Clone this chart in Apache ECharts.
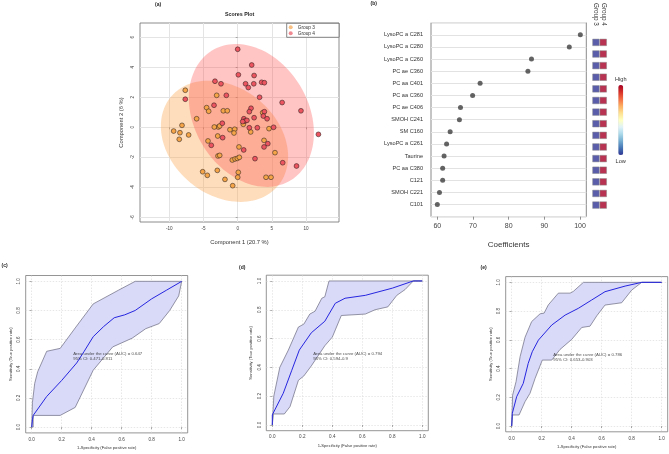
<!DOCTYPE html>
<html><head><meta charset="utf-8">
<script src="https://cdn.jsdelivr.net/npm/echarts@6/dist/echarts.min.js"></script>
<style>html,body{margin:0;padding:0;background:#fff}#c{width:669px;height:454px}</style>
</head><body><div id="c"></div>
<script>
// ---------- (a) Scores plot ----------
const group3X = [-3.07,-2.1,-1.52,3.65,0.82,1.9,4.58,-1.13,-0.44,-0.54,-2.84,-2.63,-2.92,3.85,5.45,0.19,-0.79,-0.39,-0.05,0.24,-2.88,-2.63,-2.98,0.09,0,-1.86,-0.73,4.14,4.87,-7.66,-6.0,-4.54,-4.24,-8.14,-9.36,-8.44,-7.17,-8.54,-3.42,-4.34,-5.12,-4.44];
const group3Y = [2.13,1.1,1.1,0.97,0.2,-0.31,-0.09,-0.16,-0.13,-0.38,0.02,0.09,-0.58,-0.87,-1.69,-1.31,-2.18,-2.11,-2.07,-2.0,-1.91,-1.87,-2.87,-3.0,-3.33,-3.47,-3.89,-3.33,-3.33,2.47,0.57,1.31,1.07,0.13,-0.25,-0.36,-0.51,-0.8,0.02,-0.91,-2.96,-3.2];
const group4X = [0,2.05,0.1,2.4,1.15,2.35,1.55,3.5,3.9,3.2,6.5,9.25,11.8,1.95,1.7,3.9,3.75,4.3,2.4,0.9,1.07,1.35,0.73,1.7,2.87,5.25,-1.66,-2.44,-3.32,-2.2,-2.25,4.4,3.85,0.88,2.53,6.58,8.6,-3.46,-7.66,-3.86];
const group4Y = [5.2,4.15,3.5,3.45,2.9,2.9,2.65,3.0,2.97,2.0,1.65,1.1,-0.47,1.27,1.04,1.04,0.75,0.57,0.64,0.57,0.42,0.46,0.38,-0.03,-0.03,0,2.13,2.9,3.07,-0.69,0.27,-1.09,-1.31,-1.51,-2.09,-2.36,-2.58,1.47,1.87,-1.2];
const scoreXTicks = [-10,-5,0,5,10];
const scoreYTicks = [-6,-4,-2,0,2,4,6];
// confidence ellipses: centre, half-extents, correlation
const ell3Center = [-1.93,-0.93], ell3Radii = [9.3,4.04], ell3Corr = -0.25;
const ell4Center = [2.0,0.79], ell4Radii = [9.14,4.76], ell4Corr = -0.246;

// ---------- (b) Coefficients ----------
const featureNames = ['LysoPC a C281','LysoPC a C280','LysoPC a C260','PC ae C360','PC aa C401','PC aa C360','PC ae C406','SMOH C241','SM C160','LysoPC a C261','Taurine','PC aa C380','C121','SMOH C221','C101'];
const coefficients = [100.1,97.0,86.4,85.4,72.0,69.9,66.5,66.2,63.6,62.6,61.9,61.5,61.5,60.6,60.0];
const coefTicks = [60,70,80,90,100];
const heatGroups = ['Group 3','Group 4'];
const group3Level = [0,0,0,0,0,0,0,0,0,0,0,0,0,0,0];
const group4Level = [1,1,1,1,1,1,1,1,1,1,1,1,1,1,1];

// ---------- (c)(d)(e) ROC ----------
const rocTicks = [0,0.2,0.4,0.6,0.8,1.0];
const rocC = [[0,0],[0.005,0.05],[0.01,0.08],[0.1,0.21],[0.2,0.32],[0.3,0.44],[0.35,0.52],[0.41,0.62],[0.48,0.69],[0.55,0.75],[0.62,0.77],[0.69,0.80],[0.8,0.88],[0.9,0.94],[1,1]];
const rocCUpper = [[0,0],[0.005,0.17],[0.02,0.3],[0.04,0.38],[0.1,0.52],[0.19,0.54],[0.29,0.68],[0.41,0.845],[0.58,0.94],[0.69,1.0],[1,1]];
const rocCLower = [[0,0],[0.01,0],[0.01,0.08],[0.19,0.08],[0.29,0.135],[0.41,0.39],[0.54,0.55],[0.67,0.61],[0.76,0.675],[0.85,0.71],[0.92,0.80],[0.98,0.90],[1,1]];
const rocD = [[0,0],[0,0.07],[0.073,0.22],[0.13,0.38],[0.18,0.52],[0.26,0.64],[0.35,0.72],[0.42,0.845],[0.485,0.88],[0.62,0.90],[0.80,0.95],[0.94,1.0],[1,1]];
const rocDUpper = [[0,0],[0.01,0.2],[0.05,0.4],[0.107,0.52],[0.174,0.68],[0.21,0.70],[0.25,0.77],[0.285,0.79],[0.33,0.88],[0.35,0.89],[0.378,1.0],[1,1]];
const rocDLower = [[0,0],[0.007,0.076],[0.08,0.076],[0.118,0.127],[0.174,0.31],[0.21,0.34],[0.26,0.41],[0.35,0.55],[0.40,0.61],[0.42,0.66],[0.46,0.76],[0.62,0.77],[0.685,0.80],[0.77,0.82],[0.83,0.90],[0.885,0.94],[0.94,1.0],[1,1]];
const rocE = [[0,0],[0.004,0.088],[0.033,0.204],[0.077,0.297],[0.11,0.436],[0.137,0.517],[0.178,0.598],[0.267,0.703],[0.356,0.772],[0.444,0.819],[0.533,0.877],[0.622,0.935],[0.756,0.974],[0.867,1.0],[1,1]];
const rocEUpper = [[0,0],[0.006,0.215],[0.029,0.309],[0.056,0.483],[0.089,0.618],[0.133,0.727],[0.189,0.781],[0.216,0.786],[0.244,0.843],[0.311,0.925],[0.389,0.925],[0.411,0.937],[0.478,1.0],[1,1]];
const rocELower = [[0,0],[0.006,0.077],[0.049,0.077],[0.089,0.17],[0.122,0.228],[0.156,0.332],[0.204,0.459],[0.267,0.459],[0.322,0.533],[0.4,0.603],[0.467,0.686],[0.522,0.695],[0.567,0.767],[0.622,0.842],[0.733,0.858],[0.8,0.946],[0.867,1.0],[1,1]];
const aucTexts = ['Area under the curve (AUC) = 0.647\n95% CI: 0.471-0.811','Area under the curve (AUC) = 0.794\n95% CI: 0.594-0.9','Area under the curve (AUC) = 0.786\n95% CI: 0.653-0.903'];
const aucPos = [[0.277,0.52],[0.273,0.512],[0.277,0.516]];

const FONT = 'Liberation Sans';
const chart = echarts.init(document.getElementById('c'), null, {renderer:'canvas'});

function ellipseRenderer(c, r, corr, fill){
  return function(params, api){
    const d = Math.acos(corr), pts = [];
    for (let k = 0; k <= 120; k++) {
      const t = k / 120 * 2 * Math.PI;
      pts.push(api.coord([c[0] + r[0]*Math.cos(t), c[1] + r[1]*Math.cos(t - d)]));
    }
    return {type:'polygon', shape:{points:pts}, style:{fill:fill, stroke:null}};
  };
}
function bandRenderer(upper, lower){
  return function(params, api){
    const pts = upper.map(p => api.coord(p)).concat(lower.slice().reverse().map(p => api.coord(p)));
    return {type:'polygon', shape:{points:pts}, style:{fill:'#d9d9f8', stroke:'#6a6a80', lineWidth:0.7}};
  };
}

const rowSlots = [''].concat(featureNames, ['']);

const rocGrids = [
  {left:25.7, top:275.5, width:162, height:157.4},
  {left:266.3, top:275.2, width:162, height:155.5},
  {left:505.7, top:276.6, width:162, height:155.2}
];
const grids = [
  {left:140, top:23, width:199, height:199, show:true, borderColor:'#6e6e6e', borderWidth:0.8},
  {left:431, top:22.7, width:155.3, height:194, show:true, borderColor:'#8a8a8a', borderWidth:1},
  {left:592.3, top:22.7, width:14.6, height:194}
].concat(rocGrids.map(g => Object.assign({show:true, borderColor:'#7a7a7a', borderWidth:0.8}, g)));

const smallLab = {fontFamily:FONT, color:'#444'};
const xAxes = [
  {type:'value', gridIndex:0, min:-14.28, max:14.81,
   name:'Component 1 (20.7 %)', nameLocation:'middle', nameGap:17,
   nameTextStyle:{fontFamily:FONT, fontSize:5.8, color:'#333'},
   axisLine:{show:false},
   axisTick:{show:true, length:2, lineStyle:{color:'#777', width:0.6}, customValues:scoreXTicks},
   axisLabel:Object.assign({fontSize:4.6, margin:4, customValues:scoreXTicks}, smallLab),
   splitLine:{show:true, lineStyle:{color:'#e4e4e4', width:1}}},
  {type:'value', gridIndex:1, min:58.23, max:101.77,
   name:'Coefficients', nameLocation:'middle', nameGap:24,
   nameTextStyle:{fontFamily:FONT, fontSize:8, color:'#333'},
   axisLine:{show:false},
   axisTick:{show:true, length:3, lineStyle:{color:'#777', width:0.8}, customValues:coefTicks},
   axisLabel:Object.assign({fontSize:7, margin:6, customValues:coefTicks}, smallLab),
   splitLine:{show:false}},
  {type:'category', gridIndex:2, data:heatGroups, position:'top', boundaryGap:true,
   axisLine:{show:false}, axisTick:{show:false},
   axisLabel:{fontFamily:FONT, fontSize:6.3, color:'#333', rotate:90, margin:5, interval:0},
   splitLine:{show:false}}
];
const yAxes = [
  {type:'value', gridIndex:0, min:-6.31, max:6.95,
   name:'Component 2 (6 %)', nameLocation:'middle', nameGap:16, nameRotate:90,
   nameTextStyle:{fontFamily:FONT, fontSize:5.8, color:'#333'},
   axisLine:{show:false},
   axisTick:{show:true, length:2, lineStyle:{color:'#777', width:0.6}, customValues:scoreYTicks},
   axisLabel:Object.assign({fontSize:4.6, margin:5, rotate:90, customValues:scoreYTicks}, smallLab),
   splitLine:{show:true, lineStyle:{color:'#e4e4e4', width:1}}},
  {type:'category', gridIndex:1, data:rowSlots, inverse:true, boundaryGap:false,
   axisLine:{show:false}, axisTick:{show:false},
   axisLabel:{fontFamily:FONT, fontSize:5.6, color:'#333', margin:8, interval:0},
   splitLine:{show:true, interval:0, lineStyle:{color:'#e2e2e2', width:1}}},
  {type:'category', gridIndex:2, data:rowSlots, inverse:true, boundaryGap:false, show:false}
];
rocGrids.forEach((g, i) => {
  xAxes.push({type:'value', gridIndex:3+i, min:-0.04, max:1.04,
    name:'1-Specificity (False positive rate)', nameLocation:'middle', nameGap:13,
    nameTextStyle:{fontFamily:FONT, fontSize:4.1, color:'#333'},
    axisLine:{show:false},
    axisTick:{show:true, length:2, lineStyle:{color:'#777', width:0.6}, customValues:rocTicks},
    axisLabel:Object.assign({fontSize:4.6, margin:4, customValues:rocTicks, formatter:v => v.toFixed(1)}, smallLab),
    splitLine:{show:true, lineStyle:{color:'#d6d6d6', width:0.6, type:[1.5,1.5]}}});
  yAxes.push({type:'value', gridIndex:3+i, min:-0.04, max:1.04,
    name:'Sensitivity (True positive rate)', nameLocation:'middle', nameGap:13, nameRotate:90,
    nameTextStyle:{fontFamily:FONT, fontSize:4.1, color:'#333'},
    axisLine:{show:false},
    axisTick:{show:true, length:2, lineStyle:{color:'#777', width:0.6}, customValues:rocTicks},
    axisLabel:Object.assign({fontSize:4.6, margin:4, rotate:90, customValues:rocTicks, formatter:v => v.toFixed(1)}, smallLab),
    splitLine:{show:true, lineStyle:{color:'#d6d6d6', width:0.6, type:[1.5,1.5]}}});
});

const series = [
  {type:'custom', xAxisIndex:0, yAxisIndex:0, data:[[0,0]], silent:true, clip:false, z:1,
   renderItem: ellipseRenderer(ell3Center, ell3Radii, ell3Corr, 'rgba(250,160,70,0.36)')},
  {type:'custom', xAxisIndex:0, yAxisIndex:0, data:[[0,0]], silent:true, clip:false, z:1,
   renderItem: ellipseRenderer(ell4Center, ell4Radii, ell4Corr, 'rgba(255,70,70,0.32)')},
  {type:'scatter', name:'Group 3', xAxisIndex:0, yAxisIndex:0, z:3, symbolSize:4.8,
   itemStyle:{color:'#f5a548', borderColor:'#3a2a20', borderWidth:0.6, opacity:1},
   data: group3X.map((x, i) => [x, group3Y[i]])},
  {type:'scatter', name:'Group 4', xAxisIndex:0, yAxisIndex:0, z:3, symbolSize:4.8,
   itemStyle:{color:'#ec5560', borderColor:'#3a2020', borderWidth:0.6, opacity:1},
   data: group4X.map((x, i) => [x, group4Y[i]])},
  {type:'scatter', xAxisIndex:1, yAxisIndex:1, symbolSize:5, z:3,
   itemStyle:{color:'#3d3d3d'},
   data: coefficients.map((v, i) => [v, i + 1])},
  {type:'scatter', xAxisIndex:2, yAxisIndex:2, symbol:'rect', symbolSize:6.6, z:3,
   itemStyle:{borderColor:'#8a8a8a', borderWidth:0.6},
   data: group3Level.map((v, i) => [0, i + 1, v]).concat(group4Level.map((v, i) => [1, i + 1, v]))}
];
const heatIndex = series.length - 1;
const rocSets = [[rocC, rocCUpper, rocCLower],[rocD, rocDUpper, rocDLower],[rocE, rocEUpper, rocELower]];
rocSets.forEach((s, i) => {
  series.push({type:'custom', xAxisIndex:3+i, yAxisIndex:3+i, data:[[0,0]], silent:true, clip:false, z:1,
    renderItem: bandRenderer(s[1], s[2])});
  series.push({type:'line', xAxisIndex:3+i, yAxisIndex:3+i, data:s[0], symbol:'none', z:3,
    lineStyle:{color:'#2626e0', width:1}});
  series.push({type:'scatter', xAxisIndex:3+i, yAxisIndex:3+i, data:[aucPos[i]], symbolSize:0, z:4, silent:true,
    label:{show:true, position:[0,0], align:'left', verticalAlign:'top', formatter:aucTexts[i],
      fontFamily:FONT, fontSize:4.3, lineHeight:5.3, color:'#222'}});
});

const panelTitle = (t, l, tp) => ({text:t, left:l, top:tp, padding:0,
  textStyle:{fontFamily:FONT, fontSize:5, fontWeight:'bold', color:'#222'}});

chart.setOption({
  animation:false,
  backgroundColor:'#fff',
  title:[
    {text:'Scores Plot', left:225, top:12.5, padding:0,
     textStyle:{fontFamily:FONT, fontSize:5.3, fontWeight:'bold', color:'#222'}},
    panelTitle('(a)', 155, 2.5),
    panelTitle('(b)', 370.5, 1.5),
    panelTitle('(c)', 1.5, 263.5),
    panelTitle('(d)', 239, 265),
    panelTitle('(e)', 480.5, 265)
  ],
  legend:{left:286.7, top:23.3, orient:'vertical', padding:[1.5,24,1.5,2],
    itemWidth:4, itemHeight:4, itemGap:1, itemTextGap:2, icon:'circle',
    borderColor:'#555', borderWidth:0.7, backgroundColor:'#fff',
    textStyle:{fontFamily:FONT, fontSize:4.8, color:'#333'},
    data:[{name:'Group 3', itemStyle:{color:'#f8c083', borderWidth:0}},{name:'Group 4', itemStyle:{color:'#f08a92', borderWidth:0}}]},
  visualMap:{type:'continuous', seriesIndex:heatIndex, dimension:2, min:0, max:1, calculable:false,
    orient:'vertical', left:615, top:76, padding:0, itemWidth:5, itemHeight:70, text:['High','Low'], textGap:3,
    textStyle:{fontFamily:FONT, fontSize:5.6, color:'#333'},
    inRange:{color:['#313695','#4575b4','#74add1','#abd9e9','#e0f3f8','#ffffbf','#fee090','#fdae61','#f46d43','#d73027','#a50026']}},
  grid:grids,
  xAxis:xAxes,
  yAxis:yAxes,
  series:series
});
</script></body></html>
